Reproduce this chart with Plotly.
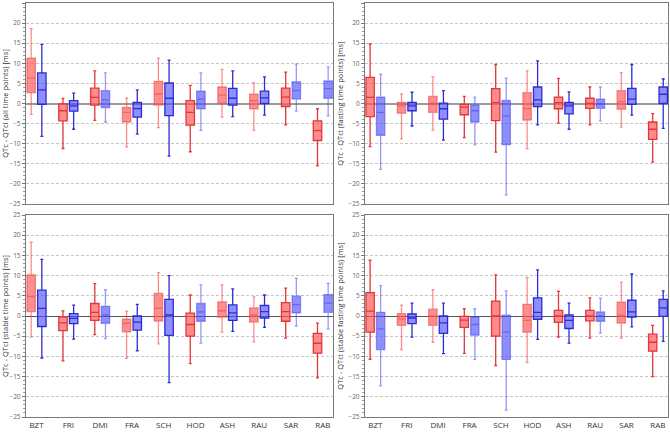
import plotly.graph_objects as go

CATEGORIES = ["BZT", "FRI", "DMI", "FRA", "SCH", "HOD", "ASH", "RAU", "SAR", "RAB"]

# Each entry: (lower whisker, Q1, median, Q3, upper whisker) per category
ALL_RED = [(-2.7, 2.7, 6.3, 11.3, 18.6), (-11.2, -4.3, -1.8, -0.1, 1.25), (-4.2, -0.4, 1.5, 3.8, 8.1),
           (-10.8, -4.6, -2.2, -1.0, 1.3), (-6.0, -0.4, 2.3, 5.5, 11.3), (-12.0, -5.4, -2.2, 0.7, 4.5),
           (-3.4, 0.1, 2.1, 4.1, 8.5), (-6.7, -1.3, 0.7, 2.3, 5.1), (-5.3, -0.75, 1.6, 3.8, 7.8),
           (-15.5, -9.2, -6.75, -4.3, -1.3)]
ALL_BLUE = [(-8.2, -0.2, 3.4, 7.6, 14.7), (-6.4, -1.9, -0.6, 0.7, 2.6), (-4.6, -1.0, 0.9, 3.2, 7.6),
            (-7.6, -3.4, -1.25, 0.25, 3.4), (-13.1, -3.0, 1.3, 5.1, 10.8), (-6.7, -1.3, 1.1, 3.1, 7.6),
            (-3.25, -0.4, 1.3, 3.75, 8.1), (-2.9, 0.0, 1.4, 3.1, 6.6), (-1.9, 1.1, 3.2, 5.4, 9.8),
            (-3.1, 1.3, 3.7, 5.6, 9.1)]
FAST_RED = [(-10.75, -3.25, 1.5, 6.5, 14.8), (-8.8, -2.4, -0.6, 0.3, 2.4), (-6.6, -2.2, 0.0, 1.75, 6.6),
            (-8.5, -2.8, -0.9, -0.2, 1.75), (-12.1, -4.25, 0.2, 3.7, 9.7), (-11.3, -4.1, -1.25, 2.7, 8.1),
            (-4.9, -1.3, 0.2, 1.6, 6.25), (-5.3, -1.2, 0.0, 1.3, 4.1), (-5.9, -1.4, 0.4, 3.2, 7.7),
            (-14.6, -8.9, -6.4, -4.6, -2.5)]
FAST_BLUE = [(-16.4, -7.9, -2.2, 1.6, 7.3), (-5.6, -1.8, -0.6, 0.3, 2.8), (-9.1, -3.9, -1.3, 0.1, 3.2),
             (-10.3, -4.6, -1.8, -0.4, 1.6), (-22.75, -10.25, -3.1, 0.75, 6.3), (-5.3, -0.75, 0.9, 4.1, 10.6),
             (-6.4, -2.6, -0.6, 0.3, 2.9), (-4.3, -1.2, -0.1, 1.1, 4.1), (-2.9, -0.2, 1.1, 3.75, 9.7),
             (-6.2, 0.0, 2.3, 4.1, 6.1)]
STAB_RED = [(-5.25, 1.1, 4.8, 10.2, 18.25), (-11.1, -3.6, -1.7, -0.2, 1.25), (-4.6, -1.1, 0.9, 3.1, 8.0),
            (-10.5, -3.9, -1.8, -0.8, 1.2), (-6.9, -1.25, 1.9, 5.6, 10.75), (-11.8, -5.0, -2.1, 0.7, 5.2),
            (-4.0, -0.3, 1.3, 3.5, 7.7), (-6.4, -1.5, 0.25, 2.0, 4.75), (-5.5, -1.3, 1.1, 3.3, 6.9),
            (-15.3, -9.2, -6.75, -4.3, -1.75)]
STAB_BLUE = [(-10.4, -2.6, 1.9, 6.4, 14.0), (-5.7, -1.9, -0.6, 0.6, 2.7), (-5.6, -1.8, 0.25, 2.4, 6.5),
             (-8.6, -3.5, -1.5, 0.0, 2.9), (-16.5, -4.8, 0.25, 4.1, 10.0), (-6.7, -1.3, 1.0, 3.1, 7.7),
             (-3.8, -1.1, 0.75, 2.75, 6.7), (-2.8, -0.5, 1.1, 2.6, 5.2), (-2.5, 0.75, 2.8, 4.9, 9.3),
             (-3.2, 0.9, 3.2, 5.3, 8.1)]
SFAST_RED = [(-10.7, -4.0, 1.2, 5.8, 13.8), (-8.3, -2.3, -0.7, 0.6, 2.7), (-6.5, -2.3, 0.0, 1.7, 6.5),
             (-9.25, -2.8, -1.0, -0.1, 1.8), (-12.25, -5.0, 0.0, 3.7, 10.2), (-11.5, -4.0, -1.1, 2.9, 9.5),
             (-5.2, -1.6, 0.0, 1.4, 6.1), (-5.5, -1.2, 0.0, 1.4, 4.5), (-5.5, -1.75, 0.2, 3.4, 8.4),
             (-15.0, -8.7, -6.5, -4.5, -2.3)]
SFAST_BLUE = [(-17.3, -8.3, -3.2, 0.9, 7.5), (-5.25, -1.9, -0.5, 0.5, 3.2), (-9.3, -4.3, -1.7, 0.0, 3.2),
              (-10.75, -4.75, -2.1, -0.25, 1.8), (-23.3, -10.75, -4.0, 0.2, 6.2), (-5.8, -0.8, 0.9, 4.5, 11.4),
              (-6.7, -3.1, -1.1, 0.25, 3.2), (-4.25, -1.3, 0.0, 1.0, 4.4), (-2.7, -0.3, 1.0, 3.9, 10.4),
              (-6.3, -0.1, 2.0, 4.1, 6.2)]

# 1 = drawn in the faded style
ALL_RED_FADED = [1, 0, 0, 1, 1, 0, 1, 1, 0, 0]
ALL_BLUE_FADED = [0, 0, 1, 0, 0, 1, 0, 0, 1, 1]
FAST_RED_FADED = [0, 1, 1, 0, 0, 1, 0, 0, 1, 0]
FAST_BLUE_FADED = [1, 0, 0, 1, 1, 0, 0, 1, 0, 0]
STAB_RED_FADED = [1, 0, 0, 1, 1, 0, 1, 1, 0, 0]
STAB_BLUE_FADED = [0, 0, 1, 0, 0, 1, 0, 0, 1, 1]
SFAST_RED_FADED = [0, 1, 1, 0, 0, 1, 0, 0, 1, 0]
SFAST_BLUE_FADED = [1, 0, 0, 1, 1, 0, 0, 1, 0, 0]

TITLES = ["QTc - QTcI (all time points) [ms]", "QTc - QTcI (fasting time points) [ms]",
          "QTc - QTcI (stable time points) [ms]", "QTc - QTcI (stable fasting time points) [ms]"]

PANELS = [
    (ALL_RED, ALL_RED_FADED, ALL_BLUE, ALL_BLUE_FADED),
    (FAST_RED, FAST_RED_FADED, FAST_BLUE, FAST_BLUE_FADED),
    (STAB_RED, STAB_RED_FADED, STAB_BLUE, STAB_BLUE_FADED),
    (SFAST_RED, SFAST_RED_FADED, SFAST_BLUE, SFAST_BLUE_FADED),
]

STYLE = {
    ("red", 0): dict(line="#e2363a", fill="rgba(255,90,90,0.7)"),
    ("red", 1): dict(line="rgba(240,70,70,0.6)", fill="rgba(255,90,90,0.68)"),
    ("blue", 0): dict(line="#2c2cd4", fill="rgba(80,80,250,0.64)"),
    ("blue", 1): dict(line="rgba(70,70,240,0.55)", fill="rgba(80,80,250,0.64)"),
}

fig = go.Figure()

XDOM = [[26 / 670, 333 / 670], [365 / 670, 668 / 670]]
YDOM = [[1 - 204 / 432, 1 - 3 / 432], [1 - 417 / 432, 1 - 215 / 432]]

for p, (red, red_f, blue, blue_f) in enumerate(PANELS):
    xa = "x" if p == 0 else f"x{p + 1}"
    ya = "y" if p == 0 else f"y{p + 1}"
    for name, stats, faded in (("red", red, red_f), ("blue", blue, blue_f)):
        for f in (0, 1):
            idx = [i for i in range(len(CATEGORIES)) if faded[i] == f]
            if not idx:
                continue
            st = STYLE[(name, f)]
            fig.add_trace(go.Box(
                x=[CATEGORIES[i] for i in idx],
                lowerfence=[stats[i][0] for i in idx],
                q1=[stats[i][1] for i in idx],
                median=[stats[i][2] for i in idx],
                q3=[stats[i][3] for i in idx],
                upperfence=[stats[i][4] for i in idx],
                boxpoints=False,
                offsetgroup=name,
                alignmentgroup=f"g{p}",
                line=dict(color=st["line"], width=1.3),
                fillcolor=st["fill"],
                whiskerwidth=0.35,
                showlegend=False,
                hoverinfo="skip",
                xaxis=xa, yaxis=ya,
            ))

layout = dict(
    width=670, height=432,
    margin=dict(l=0, r=0, t=0, b=0),
    paper_bgcolor="white", plot_bgcolor="white",
    boxmode="group", boxgap=0.33, boxgroupgap=0.21,
    showlegend=False,
    font=dict(family="Open Sans", color="#444"),
)

for p in range(4):
    col = p % 2
    row = p // 2
    xk = "xaxis" if p == 0 else f"xaxis{p + 1}"
    yk = "yaxis" if p == 0 else f"yaxis{p + 1}"
    ya = "y" if p == 0 else f"y{p + 1}"
    xa = "x" if p == 0 else f"x{p + 1}"
    layout[xk] = dict(
        domain=XDOM[col], anchor=ya,
        type="category", categoryorder="array", categoryarray=CATEGORIES,
        range=[-0.33, 9.32],
        showticklabels=(row == 1),
        tickfont=dict(size=8, color="#333"),
        ticks="", showgrid=False, zeroline=False,
        showline=True, linecolor="#7a7a7a", linewidth=1.2, mirror=True,
        automargin=False,
    )
    layout[yk] = dict(
        domain=YDOM[row], anchor=xa,
        range=[-25, 25], dtick=5, tick0=0,
        tickfont=dict(size=6.5, color="#666"),
        ticks="outside", ticklen=3, tickcolor="#777",
        minor=dict(dtick=1, ticks="outside", ticklen=2, tickcolor="#999", showgrid=False),
        showgrid=True, gridcolor="#c4c4c4", griddash="3px,2px", gridwidth=1,
        zeroline=True,
        zerolinecolor="#9a9a9a" if row == 0 else "#555555",
        zerolinewidth=2.2 if row == 0 else 1.3,
        showline=True, linecolor="#7a7a7a", linewidth=1.2, mirror=True,
        title=dict(text=TITLES[p], font=dict(size=7.5, color="#333"), standoff=3),
        automargin=False,
    )

fig.update_layout(**layout)
fig.write_html(
    "out.html",
    config={"displayModeBar": False},
    post_script="document.body.style.margin='0';document.body.style.padding='0';",
)
